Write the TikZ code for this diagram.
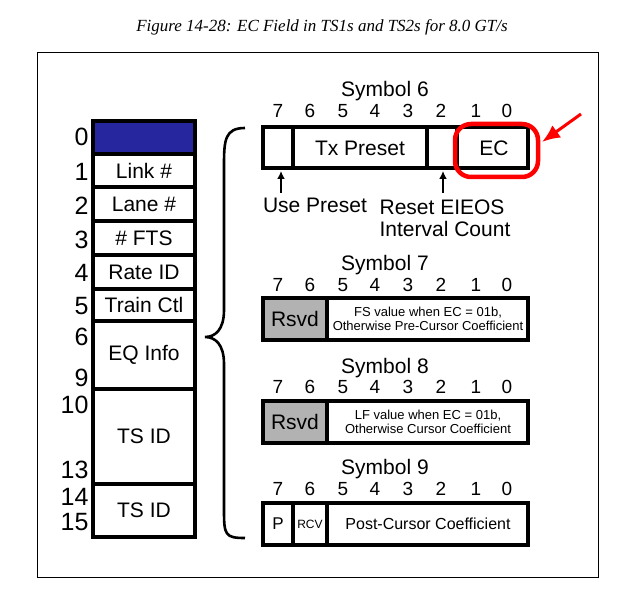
\documentclass[tikz,border=0pt]{standalone}
\usepackage{fontspec}
\usetikzlibrary{arrows.meta}
\setmainfont{Liberation Sans}
\newfontfamily\capfont{Liberation Serif}
\begin{document}
\begin{tikzpicture}[x=1pt,y=-1pt,
  cell/.style={draw,line width=3.4pt},
  bit/.style={font=\fontsize{19}{19}\selectfont},
  lab/.style={font=\fontsize{21}{22}\selectfont},
  num/.style={font=\fontsize{25}{25}\selectfont},
  sm/.style={font=\fontsize{13}{14}\selectfont,align=center}]
\useasboundingbox (0,0) rectangle (627,599);
\node (cap) at (322,27) {\capfont\itshape\fontsize{17}{17}\selectfont Figure 14-28: EC Field in TS1s and TS2s for 8.0 GT/s};
\draw[line width=0.8pt] (37,52) rectangle (598,577);
% left column
\fill[blue!55!black!85] (93,121) rectangle (195,154);
\draw[cell] (93,121) rectangle (195,154);
\foreach \a/\b/\t [count=\i] in {154/187/Link \#,187/221/Lane \#,221/255/\# FTS,255/289/Rate ID,289/321/Train Ctl,321/389/EQ Info,389/484/TS ID,484/537/TS ID}
  {\draw[cell] (93,\a) rectangle (195,\b); \node[lab] (r\i) at (144,{(\a+\b)/2}) {\t};}
\foreach \y/\t in {137/0,172/1,206/2,240/3,273/4,306/5,337/6,378/9,405/10,470/13,497/14,522/15}
  \node[num,anchor=east] at (92,\y) {\t};
% brace
\draw[line width=2.6pt] (245,128) .. controls (225,128) and (224,140) .. (224,165) -- (224,310) .. controls (224,330) and (215,337) .. (205,337)
  .. controls (215,337) and (224,344) .. (224,364) -- (224,510) .. controls (224,535) and (225,538) .. (245,538);
% symbol rows
\foreach \y/\s in {91/6,265/7,368/8,469/9}
  \node[lab] at (385,\y) {Symbol \s};
\foreach \y in {111,285,387,489}
  \foreach \x/\t in {278/7,310/6,343/5,375/4,408/3,441/2,476/1,507/0}
    \node[bit] at (\x,\y) {\t};
% symbol 6
\draw[cell] (263,127) rectangle (528,168);
\draw[cell] (293,127) -- (293,168) (427,127) -- (427,168) (457,127) -- (457,168);
\node[lab] (tx) at (360,148) {Tx Preset};
\node[lab] (ec) at (494,148) {EC};
\draw[red,line width=4.5pt,rounded corners=16pt] (455,124) rectangle (538,177);
\coordinate (ra) at (581,114);
\coordinate (rb) at (542,142);
\draw[red,line width=3pt,-{Latex[length=18pt,width=15pt]}] (ra) -- (rb);
\node[lab] (up) at (315,205) {Use Preset};
\node[lab,align=left] (re) at (445,218) {Reset EIEOS\\Interval Count};
\coordinate (u1) at (281,193); \coordinate (u2) at (281,171);
\coordinate (e1) at (443,193); \coordinate (e2) at (443,171);
\draw[line width=2.8pt,-{Latex[length=8pt,width=8pt]}] (u1) -- (u2);
\draw[line width=2.8pt,-{Latex[length=8pt,width=8pt]}] (e1) -- (e2);
% symbol 7 & 8
\foreach \y/\t in {298/{FS value when EC = 01b,\\Otherwise Pre-Cursor Coefficient},401/{LF value when EC = 01b,\\Otherwise Cursor Coefficient}}{
  \fill[gray!60] (263,\y) rectangle (327,\y+42);
  \draw[cell] (263,\y) rectangle (528,\y+42);
  \draw[cell] (327,\y) -- (327,\y+42);
  \node[lab] at (295,\y+21) {Rsvd};
  \node[sm] at (428,\y+21) {\t};}
% symbol 9
\draw[cell] (263,503) rectangle (528,545);
\draw[cell] (293,503) -- (293,545) (327,503) -- (327,545);
\node[font=\fontsize{17}{17}\selectfont] at (278,524) {P};
\node[font=\fontsize{12}{12}\selectfont] at (310,524) {RCV};
\node[font=\fontsize{16}{16}\selectfont] at (428,524) {Post-Cursor Coefficient};
\end{tikzpicture}
\end{document}
